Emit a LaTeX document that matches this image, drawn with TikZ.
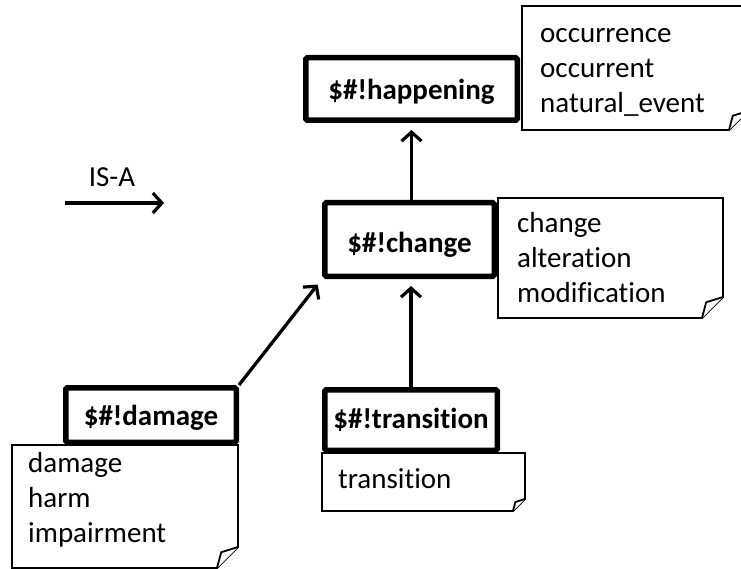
\documentclass[tikz,border=0pt]{standalone}
\usepackage{fontspec}
\setmainfont{Carlito}[Ligatures=NoCommon]
\usetikzlibrary{arrows.meta}

% dog-eared note: left, top, right, bottom, fold size
\newcommand\dognote[5]{%
  \draw[notebox] (#1,#2) -- (#3,#2) -- (#3,{#4-#5}) -- ({#3-#5},#4) -- (#1,#4) -- cycle;
  \draw[notebox] ({#3-#5},#4) -- ({#3-0.8*#5},{#4-0.75*#5}) -- (#3,{#4-#5});
}

\tikzset{
  txt/.style={font=\fontsize{29}{35}\selectfont, inner sep=0pt},
  concept/.style={draw, line width=5.5pt, rounded corners=1.5pt, fill=white, inner sep=0pt},
  conceptlbl/.style={txt, font=\fontsize{29}{35}\selectfont\bfseries, anchor=base},
  notebox/.style={draw, line width=1.8pt, fill=white, line join=miter},
  isa/.style={line width=3.3pt, -{Straight Barb[length=9pt,width=20pt,line width=3.2pt]}},
  synonyms/.style={txt, anchor=base west, align=left},
}

\begin{document}
\begin{tikzpicture}[x=1pt, y=-1pt]
  \useasboundingbox (0,0) rectangle (741,569);
  \clip (0,0) rectangle (741,569);

  % synonym notes
  \dognote{522}{6}{748}{130}{19}
  \dognote{498}{198}{723}{318}{21}
  \dognote{12}{445}{238}{568}{21}
  \dognote{322}{453}{525}{511}{12}

  % synonym lists (anchored at the baseline of their last line)
  \node[synonyms] (happeningsyn) at (540,113) {occurrence\\occurrent\\natural\_event};
  \node[synonyms] (changesyn) at (517,302) {change\\alteration\\modification};
  \node[synonyms] (damagesyn) at (28,542) {damage\\harm\\impairment};
  \node[synonyms] (transitionsyn) at (338,488) {transition};

  % concept boxes
  \node[concept, minimum width=211.5pt, minimum height=62.5pt] (happening) at (411.5,89) {};
  \node[conceptlbl] (happeninglbl) at (411.5,100) {\$\#!happening};

  \node[concept, minimum width=169.5pt, minimum height=73.5pt] (change) at (409.5,239.5) {};
  \node[conceptlbl] (changelbl) at (409.5,252) {\$\#!change};

  \node[concept, minimum width=170.5pt, minimum height=54.5pt] (damage) at (151,415) {};
  \node[conceptlbl] (damagelbl) at (151,425) {\$\#!damage};

  \node[concept, minimum width=172.5pt, minimum height=60.5pt] (transition) at (411,420) {};
  \node[conceptlbl] (transitionlbl) at (411,428) {\$\#!transition};

  % IS-A links
  \draw[isa, shorten >=7pt] (change.north -| happening.south) -- (happening.south);
  \draw[isa, shorten >=7pt] (transition.north) -- (transition.north |- change.south);
  \draw[isa, shorten >=7pt] (damage.north east) -- (change.south west);

  % legend
  \coordinate (legendfrom) at (65,203);
  \coordinate (legendto) at (164,203);
  \draw[isa] (legendfrom) -- (legendto);
  \node[txt, anchor=base] (legendlbl) at (112,187) {IS-A};
\end{tikzpicture}
\end{document}
